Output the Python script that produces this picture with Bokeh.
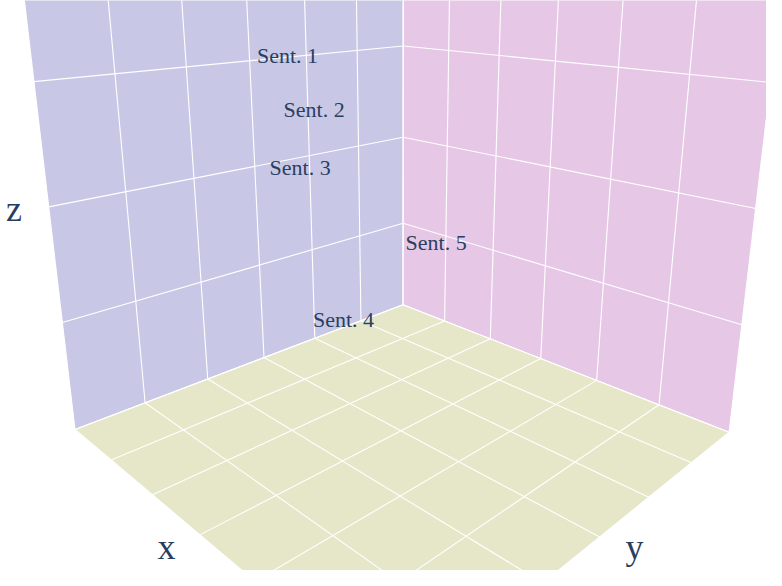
import numpy as np
from bokeh.plotting import figure
from bokeh.models import Range1d
from bokeh.core.properties import value
from bokeh.embed import file_html
from bokeh.resources import INLINE

# ---------------- data ----------------
labels = ["Sent. 1", "Sent. 2", "Sent. 3", "Sent. 4", "Sent. 5"]
x_vals = [-0.06, 0.06, -0.18, -0.06, 0.06]
y_vals = [0.116, 0.177, 0.011, 0.043, 0.002]
z_vals = [0.122, 0.097, 0.013, -0.101, -0.020]

x_ticks = [-0.3, -0.2, -0.1, 0.0, 0.1, 0.2, 0.3]
y_ticks = [-0.3, -0.2, -0.1, 0.0, 0.1, 0.2, 0.3]
z_ticks = [-0.2, -0.1, 0.0, 0.1, 0.2]

# ---------------- camera (perspective) ----------------
DIST, ELEV, FOCAL = 3.4567, 0.28159, 864.01
CX, CY = 400.56, 207.19          # screen centre of the scene (plot px)
HZ, AZ = 1.0042, -0.00811        # z half-height of scene box, azimuth tweak

W, H = 766, 570
xmin, xmax = min(x_ticks), max(x_ticks)
ymin, ymax = min(y_ticks), max(y_ticks)
zmin, zmax = min(z_ticks), max(z_ticks)

def norm(v, lo, hi):
    return 2.0 * (np.asarray(v, float) - lo) / (hi - lo) - 1.0

def project(x, y, z):
    X = norm(x, xmin, xmax); Y = norm(y, ymin, ymax); Z = norm(z, zmin, zmax) * HZ
    a, b = np.cos(ELEV), np.sin(ELEV)
    u0 = (X - Y) / np.sqrt(2); d0 = (X + Y) / np.sqrt(2)
    u = u0 * np.cos(AZ) + d0 * np.sin(AZ)
    d = -u0 * np.sin(AZ) + d0 * np.cos(AZ)
    dep = DIST - d * a - Z * b
    return CX + FOCAL * u / dep, CY - FOCAL * (Z * a - d * b) / dep

p = figure(width=W, height=H, x_range=Range1d(0, W), y_range=Range1d(H, 0),
           output_backend="svg", toolbar_location=None, min_border=0,
           x_axis_type=None, y_axis_type=None)
p.grid.visible = False
p.outline_line_color = None
p.background_fill_color = "white"
p.border_fill_color = "white"

def quad(xs, ys, zs):
    sx, sy = project(xs, ys, zs)
    return list(sx), list(sy)

# back walls and floor
walls = [
    ((xmin, xmin, xmin, xmin), (ymax, ymin, ymin, ymax), (zmin, zmin, zmax, zmax), "rgb(200,200,230)"),
    ((xmin, xmax, xmax, xmin), (ymin, ymin, ymin, ymin), (zmin, zmin, zmax, zmax), "rgb(230,200,230)"),
    ((xmin, xmax, xmax, xmin), (ymin, ymin, ymax, ymax), (zmin, zmin, zmin, zmin), "rgb(230,230,200)"),
]
for xs, ys, zs, c in walls:
    sx, sy = quad(xs, ys, zs)
    p.patch(sx, sy, fill_color=c, line_color=None)

# grid lines
segs = []
for v in y_ticks:
    segs.append(((xmin, xmin), (v, v), (zmin, zmax)))     # left wall verticals
    segs.append(((xmin, xmax), (v, v), (zmin, zmin)))     # floor
for v in x_ticks:
    segs.append(((v, v), (ymin, ymin), (zmin, zmax)))     # right wall verticals
    segs.append(((v, v), (ymin, ymax), (zmin, zmin)))     # floor
for v in z_ticks:
    segs.append(((xmin, xmin), (ymin, ymax), (v, v)))     # left wall horizontals
    segs.append(((xmin, xmax), (ymin, ymin), (v, v)))     # right wall horizontals
XS, YS = [], []
for xs, ys, zs in segs:
    sx, sy = quad(xs, ys, zs)
    XS.append(sx); YS.append(sy)
p.multi_line(XS, YS, line_color="white", line_width=1.1)

# text markers
lx, ly = project(x_vals, y_vals, z_vals)
p.text(list(lx), list(ly), text=labels, text_font=value("Liberation Serif"),
       text_font_size="22px", text_color="#2a3f5f", text_align="center",
       text_baseline="alphabetic", y_offset=-1)

# axis titles
p.text([13.5, 166, 634], [208.5, 546.8, 546.5], text=["z", "x", "y"],
       text_font=value("Liberation Serif"), text_font_size="36px",
       text_color="#2a3f5f", text_align="center", text_baseline="alphabetic")

open("out.html", "w").write(file_html(p, INLINE))
